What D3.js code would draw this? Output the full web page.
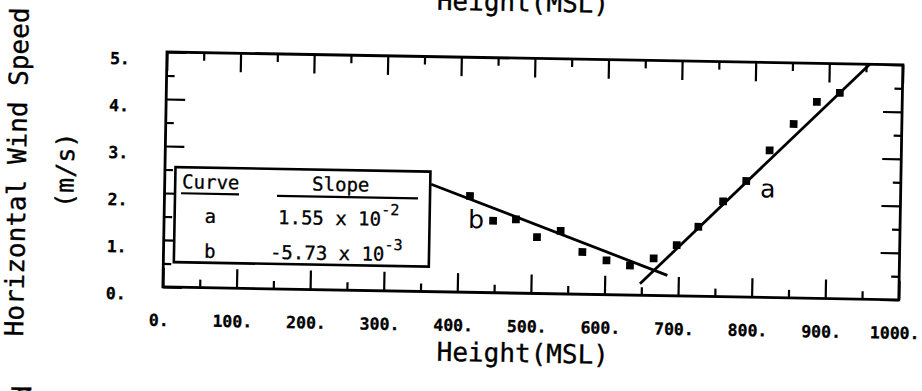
<!DOCTYPE html>
<html>
<head>
<meta charset="utf-8">
<script src="https://cdn.jsdelivr.net/npm/d3@7"></script>
<style>
  html, body { margin: 0; padding: 0; background: #fff; }
  svg { display: block; }
</style>
</head>
<body>
<svg id="chart" width="922" height="391"></svg>
<script>
// Measured horizontal wind speed (m/s) against height (MSL)
const heights = [415, 447, 478, 507, 539, 569, 602, 634, 666, 697, 726, 759, 790, 821, 853, 884, 915];
const speeds  = [2.05, 1.53, 1.57, 1.20, 1.34, 0.90, 0.73, 0.63, 0.79, 1.08, 1.48, 2.03, 2.47, 3.13, 3.70, 4.18, 4.38];

// Straight-line fits for the two layers
const curveNames      = ["a", "b"];
const curveSlopes     = [1.55e-2, -5.73e-3];
const slopeMantissas  = ["1.55", "-5.73"];
const slopeExponents  = ["-2", "-3"];
const curveIntercepts = [-9.80, 4.36];
const curveFrom       = [648, 362];
const curveTo         = [955, 685];
const curveLabelX     = [809, 413];
const curveLabelY     = [2.13, 1.37];

// Axis ticks
const xMajorTicks = [0, 100, 200, 300, 400, 500, 600, 700, 800, 900, 1000];
const xTickLabels = ["0.", "100.", "200.", "300.", "400.", "500.", "600.", "700.", "800.", "900.", "1000."];
const xMinorTicks = [50, 150, 250, 350, 450, 550, 650, 750, 850, 950];
const yMajorTicks = [0, 1, 2, 3, 4, 5];
const yTickLabels = ["0.", "1.", "2.", "3.", "4.", "5."];
const yMinorTicks = [0.5, 1.5, 2.5, 3.5, 4.5];

const xTitle = "Height(MSL)";
const yTitle = "Horizontal Wind Speed";
const yUnits = "(m/s)";

const MONO = "'DejaVu Sans Mono', 'Liberation Mono', monospace";
const W = 736, H = 235;
const LONG = 19, SHORT = 8;

const svg = d3.select("#chart");
svg.append("rect").attr("width", 922).attr("height", 391).attr("fill", "#fff");

// The whole page sits slightly skewed
const g = svg.append("g").attr("transform", "translate(167,52) rotate(1)");

const x = d3.scaleLinear().domain([0, 1000]).range([0, W]);
const y = d3.scaleLinear().domain([0, 5]).range([H, 0]);

function tickAxis(axisFn, scale, values, size, tx, ty) {
  const a = g.append("g")
    .attr("transform", `translate(${tx},${ty})`)
    .call(axisFn(scale).tickValues(values).tickSize(-size).tickFormat(""));
  a.select(".domain").remove();
  a.selectAll(".tick line").attr("stroke", "#000").attr("stroke-width", 2.2);
  return a;
}

// Inward ticks on all four sides
tickAxis(d3.axisBottom, x, xMajorTicks, LONG, 0, H);
tickAxis(d3.axisBottom, x, xMinorTicks, SHORT, 0, H);
tickAxis(d3.axisTop, x, xMajorTicks, LONG, 0, 0);
tickAxis(d3.axisTop, x, xMinorTicks, SHORT, 0, 0);
tickAxis(d3.axisLeft, y, yMajorTicks, LONG, 0, 0);
tickAxis(d3.axisLeft, y, yMinorTicks, SHORT, 0, 0);
tickAxis(d3.axisRight, y, yMajorTicks, LONG, W, 0);
tickAxis(d3.axisRight, y, yMinorTicks, SHORT, W, 0);

// Tick labels
const xLab = g.append("g")
  .attr("transform", `translate(0,${H})`)
  .call(d3.axisBottom(x).tickValues(xMajorTicks).tickSize(0)
        .tickFormat((d, i) => xTickLabels[i]));
xLab.select(".domain").remove();
xLab.selectAll("text")
  .attr("y", 39).attr("dy", 0).attr("dx", -4)
  .attr("font-family", MONO).attr("font-size", 16.5).attr("font-weight", "bold")
  .attr("fill", "#000").attr("stroke", "#000").attr("stroke-width", 0.3);

const yLab = g.append("g")
  .call(d3.axisLeft(y).tickValues(yMajorTicks).tickSize(0)
        .tickFormat((d, i) => yTickLabels[i]));
yLab.select(".domain").remove();
yLab.selectAll("text")
  .attr("x", -37).attr("dy", 12.5)
  .attr("font-family", MONO).attr("font-size", 16.5).attr("font-weight", "bold")
  .attr("fill", "#000").attr("stroke", "#000").attr("stroke-width", 0.3);

// Frame
g.append("rect").attr("width", W).attr("height", H)
  .attr("fill", "none").attr("stroke", "#000").attr("stroke-width", 2.8);

// Fitted lines
curveNames.forEach((name, i) => {
  const xs = [curveFrom[i], curveTo[i]];
  g.append("path")
    .datum(xs)
    .attr("d", d3.line()
      .x(d => x(d))
      .y(d => y(curveSlopes[i] * d + curveIntercepts[i])))
    .attr("fill", "none").attr("stroke", "#000").attr("stroke-width", 2.8);
  g.append("text")
    .attr("x", x(curveLabelX[i])).attr("y", y(curveLabelY[i]))
    .attr("font-family", "'DejaVu Sans', sans-serif").attr("font-size", 25)
    .attr("fill", "#000").text(name);
});

// Measured points
g.append("g").selectAll("path")
  .data(heights.map((h, i) => [h, speeds[i]]))
  .join("path")
  .attr("transform", d => `translate(${x(d[0])},${y(d[1])})`)
  .attr("d", d3.symbol(d3.symbolSquare, 60))
  .attr("fill", "#000");

// Legend table
const lg = g.append("g").attr("transform", "translate(10.5,115)");
lg.append("rect").attr("width", 255).attr("height", 95)
  .attr("fill", "#fff").attr("stroke", "#000").attr("stroke-width", 2.6);
const lt = (tx, ty, s) => lg.append("text").attr("x", tx).attr("y", ty)
  .attr("font-family", MONO).attr("font-size", 19).attr("fill", "#000")
  .attr("stroke", "#000").attr("stroke-width", 0.3).text(s);
lt(7, 21, "Curve");
lt(137, 21, "Slope");
lg.append("line").attr("x1", 6).attr("x2", 64).attr("y1", 26).attr("y2", 26)
  .attr("stroke", "#000").attr("stroke-width", 2.2);
lg.append("line").attr("x1", 102).attr("x2", 243).attr("y1", 27).attr("y2", 27)
  .attr("stroke", "#000").attr("stroke-width", 2.2);
const rowY = [55, 90];
const rowX = [103.5, 96];
curveNames.forEach((name, i) => {
  lt(30, rowY[i], name);
  const t = lt(rowX[i], rowY[i], "");
  t.append("tspan").text(slopeMantissas[i] + " x 10");
  t.append("tspan").attr("dy", -11).attr("font-size", 15).text(slopeExponents[i]);
});

// Axis titles
const title = (tr, s, size) => g.append("text")
  .attr("transform", tr)
  .attr("text-anchor", "middle")
  .attr("font-family", MONO).attr("font-size", size).attr("fill", "#000")
  .attr("stroke", "#000").attr("stroke-width", 0.35)
  .text(s);
title("translate(361,304)", xTitle, 26);
title("translate(-139,122.5) rotate(-90)", yTitle, 26);
title("translate(-91,120) rotate(-90)", yUnits, 25);

// Neighbouring figures on the same page: title above, axis title below
title("translate(355,-47)", xTitle, 26);
title("translate(-130,500) rotate(-90)", yTitle, 26);
</script>
</body>
</html>
